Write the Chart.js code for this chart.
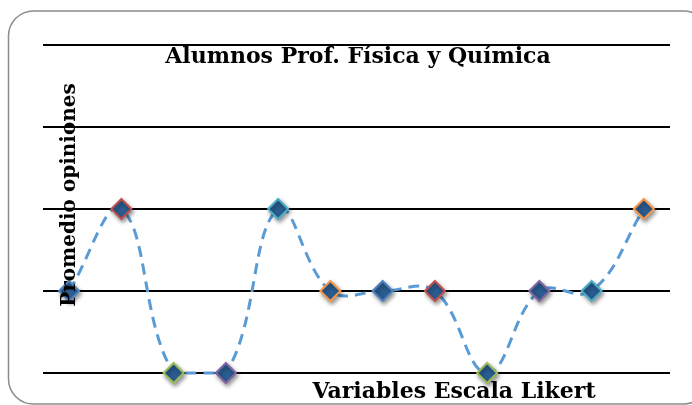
<!DOCTYPE html>
<html>
<head>
<meta charset="utf-8">
<script src="https://cdn.jsdelivr.net/npm/chart.js@4.4.1/dist/chart.umd.min.js"></script>
<style>
  html, body { margin: 0; padding: 0; background: #ffffff; }
  #wrap { width: 692px; height: 405px; position: relative; }
</style>
</head>
<body>
<div id="wrap"><canvas id="c" width="692" height="405"></canvas></div>
<script>
// Survey items (12 Likert variables) and their average opinion
const categories = ['1', '2', '3', '4', '5', '6', '7', '8', '9', '10', '11', '12'];
const promedio = [2, 3, 1, 1, 3, 2, 2, 2, 1, 2, 2, 3];
const yTicks = [1, 2, 3, 4, 5];

const chartTitle = 'Alumnos Prof. Física y Química';
const xTitle = 'Variables Escala Likert';
const yTitle = 'Promedio opiniones';

const markerBorders = ['#4F81BD', '#C0504D', '#9BBB59', '#8064A2', '#4BACC6', '#F79646'];
const FONT = 'bold 22px "DejaVu Serif", "Liberation Serif", serif';
const FONT_Y = 'bold 20px "DejaVu Serif", "Liberation Serif", serif';

// Rounded frame around the whole chart
const framePlugin = {
  id: 'frame',
  beforeDraw(chart) {
    const ctx = chart.ctx;
    ctx.save();
    ctx.fillStyle = '#ffffff';
    ctx.fillRect(0, 0, chart.width, chart.height);
    const x = 8.5, y = 11, w = 700, h = 393, r = 25;
    ctx.beginPath();
    ctx.moveTo(x + r, y);
    ctx.lineTo(x + w - r, y);
    ctx.arcTo(x + w, y, x + w, y + r, r);
    ctx.lineTo(x + w, y + h - r);
    ctx.arcTo(x + w, y + h, x + w - r, y + h, r);
    ctx.lineTo(x + r, y + h);
    ctx.arcTo(x, y + h, x, y + h - r, r);
    ctx.lineTo(x, y + r);
    ctx.arcTo(x, y, x + r, y, r);
    ctx.closePath();
    ctx.strokeStyle = '#8c8c8c';
    ctx.lineWidth = 1.5;
    ctx.stroke();
    ctx.restore();
  }
};

// Chart title and axis titles, drawn on top of the plot
const titlesPlugin = {
  id: 'titles',
  afterDatasetsDraw(chart) {
    const ctx = chart.ctx;
    ctx.save();
    ctx.fillStyle = '#000000';
    ctx.textAlign = 'center';
    ctx.textBaseline = 'alphabetic';
    ctx.font = FONT;
    ctx.fillText(chartTitle, 358, 63);
    ctx.fillText(xTitle, 454, 398);
    ctx.font = FONT_Y;
    ctx.translate(75, 195);
    ctx.rotate(-Math.PI / 2);
    ctx.fillText(yTitle, 0, 0);
    ctx.restore();
  }
};

// Soft drop shadow under the diamond markers only
const shadowPlugin = {
  id: 'markerShadow',
  beforeDatasetDraw(chart, args) {
    if (args.index === 1) {
      const ctx = chart.ctx;
      ctx.save();
      ctx.shadowColor = 'rgba(0,0,0,0.4)';
      ctx.shadowBlur = 4;
      ctx.shadowOffsetX = 1.5;
      ctx.shadowOffsetY = 2.5;
    }
  },
  afterDatasetDraw(chart, args) {
    if (args.index === 1) chart.ctx.restore();
  }
};

new Chart(document.getElementById('c'), {
  type: 'line',
  data: {
    labels: categories,
    datasets: [
      {
        label: 'Promedio',
        data: promedio,
        borderColor: '#5B9BD5',
        borderWidth: 3,
        borderDash: [11, 7],
        tension: 0.4,
        pointRadius: 0,
        fill: false,
        clip: false,
        order: 2
      },
      {
        label: 'Promedio (marcadores)',
        data: promedio,
        showLine: false,
        pointStyle: 'rectRot',
        pointRadius: 10,
        pointHoverRadius: 10,
        pointBackgroundColor: '#2B5D92',
        pointBorderColor: promedio.map((_, i) => markerBorders[i % markerBorders.length]),
        pointBorderWidth: 2,
        clip: false,
        order: 1
      }
    ]
  },
  options: {
    responsive: false,
    animation: false,
    events: [],
    layout: { padding: { left: 43, right: 22, top: 45, bottom: 32 } },
    plugins: {
      legend: { display: false },
      title: { display: false },
      tooltip: { enabled: false }
    },
    scales: {
      x: {
        offset: true,
        grid: { display: false, drawTicks: false },
        border: { display: false },
        ticks: { display: false }
      },
      y: {
        min: yTicks[0],
        max: yTicks[yTicks.length - 1],
        afterBuildTicks(scale) { scale.ticks = yTicks.map(v => ({ value: v })); },
        grid: { color: '#000000', lineWidth: 2, drawTicks: false },
        border: { display: false },
        ticks: { display: false }
      }
    }
  },
  plugins: [framePlugin, titlesPlugin, shadowPlugin]
});
</script>
</body>
</html>
